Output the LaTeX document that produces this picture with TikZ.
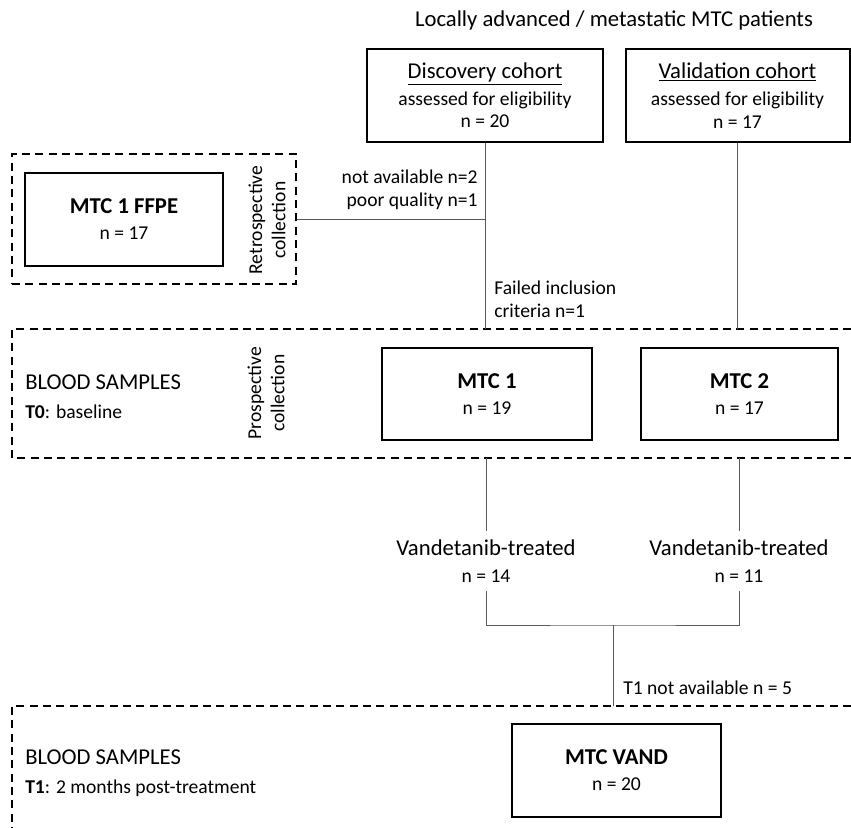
\documentclass[tikz,border=0pt]{standalone}
\usepackage{fontspec}
\setmainfont{Carlito}
\usepackage{tikz}

\definecolor{linegray}{RGB}{90,90,90}
\newcommand\headfont{\fontsize{17}{20}\selectfont}
\tikzset{
  box/.style={draw, line width=1.5pt, align=center, inner sep=0pt,
    font=\fontsize{14.7}{17}\selectfont},
  group/.style={draw, line width=1.5pt, dash pattern=on 6pt off 4pt},
  conn/.style={draw=linegray, line width=0.75pt},
  head/.style={inner sep=0pt, font=\headfont},
  small/.style={inner sep=0pt, font=\fontsize{14.7}{17.5}\selectfont},
}

\begin{document}
\begin{tikzpicture}[x=0.75pt, y=-0.75pt]
\useasboundingbox (0,0) rectangle (851,828);

\node[head] (title) at (614,20) {Locally advanced / metastatic MTC patients};

\node[box, minimum width=177pt, minimum height=69.75pt] (disc) at (485,95.5)
  {{\headfont\underline{Discovery cohort}}\\[3pt] assessed for eligibility\\ n = 20};
\node[box, minimum width=168pt, minimum height=69.75pt] (valid) at (737.5,95.5)
  {{\headfont\underline{Validation cohort}}\\[3pt] assessed for eligibility\\ n = 17};

\node[group, minimum width=213pt, minimum height=97.5pt] (retro) at (154,219) {};
\node[box, minimum width=148.5pt, minimum height=69.75pt] (ffpe) at (124,219.5)
  {{\headfont\bfseries MTC 1 FFPE}\\[2.5pt] n = 17};
\node[small, rotate=90, align=center] (rlab) at (267,220) {Retrospective\\collection};

\node[small, align=right, anchor=east] (excl1) at (478,190) {not available n=2\\poor quality n=1};
\node[small, align=left, anchor=west] (excl2) at (494,299.5) {Failed inclusion\\criteria n=1};

\coordinate (t0top) at (0,329);
\coordinate (t0bot) at (0,458);
\draw[group] (851,329) -- (12,329) -- (12,458) -- (851,458);
\node[small, align=left, anchor=west] (t0lab) at (25,397)
  {{\headfont BLOOD SAMPLES}\\[4pt]\textbf{T0}: baseline};
\node[small, rotate=90, align=center] (plab) at (266,393) {Prospective\\collection};
\node[box, minimum width=157.5pt, minimum height=69pt] (mtc1) at (487,394)
  {{\headfont\bfseries MTC 1}\\[2.5pt] n = 19};
\node[box, minimum width=147.75pt, minimum height=69pt] (mtc2) at (739.5,394)
  {{\headfont\bfseries MTC 2}\\[2.5pt] n = 17};

\node[small, align=center, minimum height=44.25pt] (vt1) at (486,561)
  {{\headfont Vandetanib-treated}\\[3pt] n = 14};
\node[small, align=center, minimum height=44.25pt] (vt2) at (739,561)
  {{\headfont Vandetanib-treated}\\[3pt] n = 11};
\coordinate (join) at (613,625);
\node[small, anchor=west] (excl3) at (623,688) {T1 not available n = 5};

\coordinate (t1top) at (0,706);
\draw[group] (851,706) -- (12,706) -- (12,828);
\node[small, align=left, anchor=west] (t1lab) at (25,773.5)
  {{\headfont BLOOD SAMPLES}\\[4pt]\textbf{T1}: 2 months post-treatment};
\node[box, minimum width=156.75pt, minimum height=69.75pt] (vand) at (616.5,770.5)
  {{\headfont\bfseries MTC VAND}\\[2.5pt] n = 20};

\draw[conn] (disc) -- (disc |- t0top);
\draw[conn] (retro) -- (retro -| disc);
\draw[conn] (valid) -- (valid |- t0top);
\draw[conn] (vt1 |- t0bot) -- (vt1);
\draw[conn] (vt2 |- t0bot) -- (vt2);
\draw[conn] (vt1) |- (join) -| (vt2);
\draw[conn] (join) -- (join |- t1top);
\end{tikzpicture}
\end{document}
